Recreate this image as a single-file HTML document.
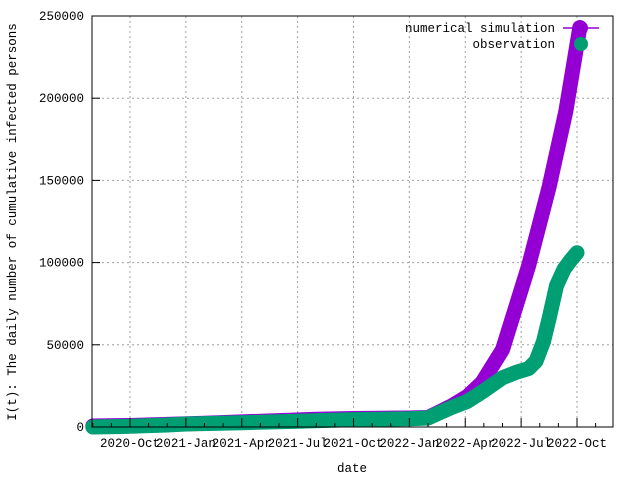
<!DOCTYPE html>
<html><head><meta charset="utf-8"><style>
body{margin:0;background:#fff}
svg{display:block;font-family:"Liberation Mono","DejaVu Sans Mono",monospace;font-size:12.5px}
</style></head><body>
<svg id="chart" width="640" height="480" viewBox="0 0 640 480" xmlns="http://www.w3.org/2000/svg">
<g id="grid"></g>
<g id="series"></g>
<rect x="92" y="16" width="521" height="411" fill="none" stroke="#000" stroke-width="1"/>
<g id="axes"></g>
<text x="352" y="472" text-anchor="middle">date</text>
<text transform="translate(16,222) rotate(-90)" text-anchor="middle">I(t): The daily number of cumulative infected persons</text>
<g>
<text x="555" y="32" text-anchor="end">numerical simulation</text>
<line x1="563" y1="28" x2="599" y2="28" stroke="#9400d3" stroke-width="1.5"/>
<circle cx="581" cy="28" r="7" fill="#9400d3"/>
<text x="555" y="48" text-anchor="end">observation</text>
<circle cx="581" cy="44" r="7" fill="#009e73"/>
</g>
</svg>
<script>
// months since 2020-10
const tickMonths=[0,3,6,9,12,15,18,21,24];
const tickLabels=["2020-Oct","2021-Jan","2021-Apr","2021-Jul","2021-Oct","2022-Jan","2022-Apr","2022-Jul","2022-Oct"];
const yTicks=[0,50000,100000,150000,200000,250000];
const simMonths=[-2,0,2,4,6,8,10,12,14,15,16,16.5,17.3,18.1,18.9,20,21.4,22.5,23.4,24.15];
const simValues=[600,900,1600,2300,3100,3900,4700,5200,5400,5500,5800,8500,13000,18500,27000,47000,98000,146000,192000,243000];
const obsMonths=[-2,0,2,3,6,9,12,15,16,16.5,17.3,18.1,19,20,20.8,21.4,21.8,22.2,22.5,22.9,23.3,23.7,24];
const obsValues=[0,400,1200,1800,2600,3500,4500,5000,5500,8000,12000,15500,22000,30000,33500,35500,40000,52000,66000,86000,96000,102000,106000];
const NS="http://www.w3.org/2000/svg";
const X=m=>130+m*(447/24);
const Y=v=>427-v*411/250000;
const grid=document.getElementById('grid'),axes=document.getElementById('axes'),ser=document.getElementById('series');
function mk(t,a,p){const e=document.createElementNS(NS,t);for(const k in a)e.setAttribute(k,a[k]);p.appendChild(e);return e;}
tickMonths.forEach((m,i)=>{
 const g=mk('line',{x1:X(m),x2:X(m),y1:16,y2:427,stroke:'#a0a0a0','stroke-dasharray':'2,3'},grid);
 
 
 const t=mk('text',{x:X(m),y:447,'text-anchor':'middle'},axes);t.textContent=tickLabels[i];
 
 
});
for(let m=-2;m<=26;m++){if(X(m)<92||X(m)>613)continue;const big=m%3===0;
 const l=mk('line',{x1:X(m),x2:X(m),y1:427,y2:big?418:423,stroke:'#000'},axes);
 
 }
yTicks.forEach(v=>{
 if(v>0&&v<250000){const g=mk('line',{x1:92,x2:613,y1:Y(v),y2:Y(v),stroke:'#a0a0a0','stroke-dasharray':'2,3'},grid);
 
 }
 const t=mk('text',{x:84,y:Y(v)+4,'text-anchor':'end'},axes);t.textContent=v;
 
 
 const l=mk('line',{x1:92,x2:100,y1:Y(v),y2:Y(v),stroke:'#000'},axes);
 
 
});
function path(ms,vs){return ms.map((m,i)=>(i?'L':'M')+X(m).toFixed(1)+','+Y(vs[i]).toFixed(1)).join(' ');}
const s=mk('path',{d:path(simMonths,simValues),fill:'none',stroke:'#9400d3','stroke-width':15,'stroke-linecap':'round','stroke-linejoin':'round'},ser);


const o=mk('path',{d:path(obsMonths,obsValues),fill:'none',stroke:'#009e73','stroke-width':15,'stroke-linecap':'round','stroke-linejoin':'round'},ser);


</script>
</body></html>
